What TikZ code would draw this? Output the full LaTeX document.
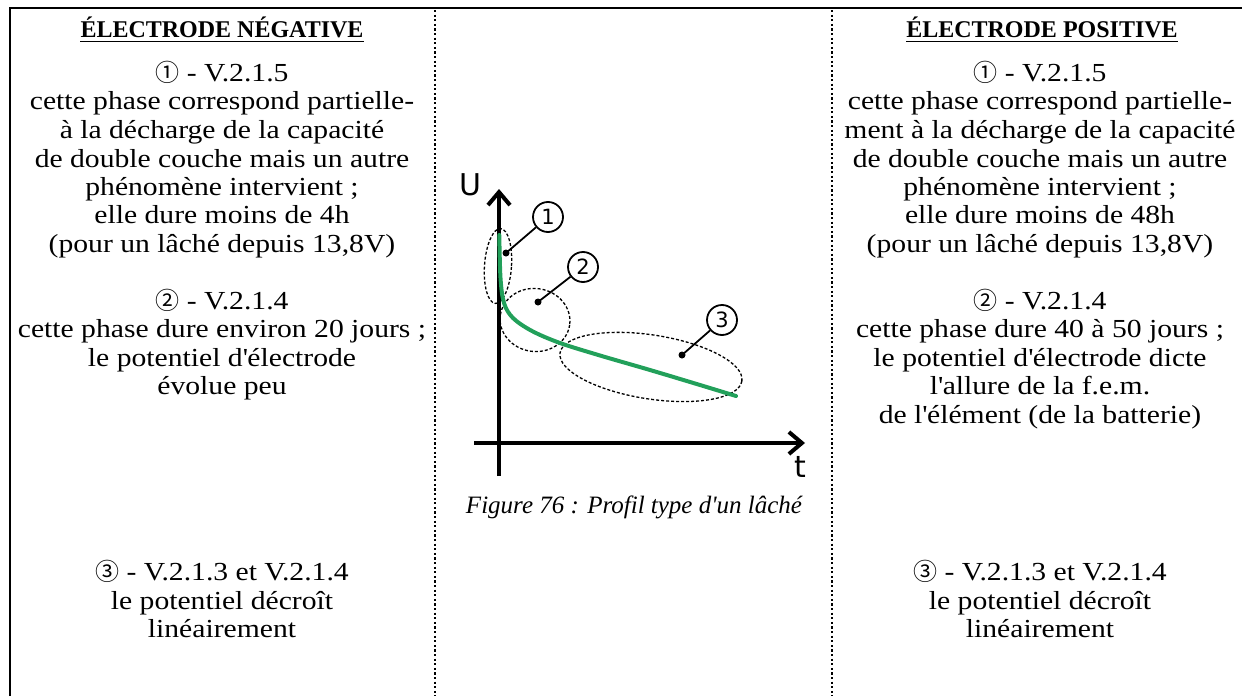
\documentclass[tikz,border=0pt]{standalone}
\usepackage{fontspec}
\setmainfont{Liberation Serif}
\newfontfamily\djv{DejaVu Sans}
\newfontfamily\cjk{Noto Sans CJK JP}
\newfontfamily\bodyfont{Liberation Serif}[FakeStretch=1.14]
\usetikzlibrary{arrows.meta}
\newcommand\cn[1]{{\cjk\fontsize{24}{24}\selectfont #1}}
\newcommand\sq{\XeTeXglyph\numexpr\XeTeXcharglyph"27\relax}
\begin{document}
\begin{tikzpicture}[x=1pt,y=-1pt,
  body/.style={font=\bodyfont\fontsize{26}{26}\selectfont, inner sep=0pt, anchor=base},
  hdr/.style={font=\fontsize{24}{24}\selectfont\bfseries, inner sep=0pt, anchor=base},
  sep/.style={line width=2.2pt, dash pattern=on 2.2pt off 2.4pt},
  frame/.style={line width=2.2pt},
  region/.style={draw, dash pattern=on 3pt off 2pt, line width=1.3pt},
  badge/.style={circle, draw, line width=1.8pt, minimum size=30pt, inner sep=0pt, font=\djv\fontsize{21}{21}\selectfont, fill=white},
  dotmark/.style={circle, fill, inner sep=0pt, minimum size=7pt},
  axis/.style={line width=4pt, -{Straight Barb[length=13pt,width=22pt]}},
  caption/.style={font=\fontsize{25}{25}\selectfont\itshape, inner sep=0pt, anchor=base},
  axlabel/.style={font=\djv\fontsize{30}{30}\selectfont, inner sep=0pt, anchor=base},
]
\useasboundingbox (0,0) rectangle (1242,696);
% frame
\coordinate (tl) at (10,8);
\coordinate (tr) at (1242,8);
\coordinate (bl) at (10,696);
\draw[frame] (bl) -- (tl) -- (tr);
\coordinate (s1t) at (435,10);
\coordinate (s1b) at (435,696);
\coordinate (s2t) at (832,10);
\coordinate (s2b) at (832,696);
\draw[sep] (s1t) -- (s1b);
\draw[sep] (s2t) -- (s2b);
% headers
\node[hdr] (hL) at (222,37) {ÉLECTRODE NÉGATIVE};
\draw[line width=1.6pt] ([yshift=-4.5pt]hL.base west) -- ([yshift=-4.5pt]hL.base east);
\node[hdr] (hR) at (1042,37) {ÉLECTRODE POSITIVE};
\draw[line width=1.6pt] ([yshift=-4.5pt]hR.base west) -- ([yshift=-4.5pt]hR.base east);
% left column
\foreach \n/\y/\t in {
  1/81/{\cn{①} - V.2.1.5},
  2/109/{cette phase correspond partielle-},
  3/138/{à la décharge de la capacité},
  4/167/{de double couche mais un autre},
  5/195/{phénomène intervient ;},
  6/223/{elle dure moins de 4h},
  7/252/{(pour un lâché depuis 13,8V)},
  8/309/{\cn{②} - V.2.1.4},
  9/337/{cette phase dure environ 20 jours ;},
  10/366/{le potentiel d\sq électrode},
  11/394/{évolue peu},
  12/580/{\cn{③} - V.2.1.3 et V.2.1.4},
  13/609/{le potentiel décroît},
  14/637/{linéairement}}
  \node[body] (L\n) at (222,\y) {\t};
% right column
\foreach \n/\y/\t in {
  1/81/{\cn{①} - V.2.1.5},
  2/109/{cette phase correspond partielle-},
  3/138/{ment à la décharge de la capacité},
  4/167/{de double couche mais un autre},
  5/195/{phénomène intervient ;},
  6/223/{elle dure moins de 48h},
  7/252/{(pour un lâché depuis 13,8V)},
  8/309/{\cn{②} - V.2.1.4},
  9/337/{cette phase dure 40 à 50 jours ;},
  10/366/{le potentiel d\sq électrode dicte},
  11/394/{l\sq allure de la f.e.m.},
  12/423/{de l\sq élément (de la batterie)},
  13/580/{\cn{③} - V.2.1.3 et V.2.1.4},
  14/609/{le potentiel décroît},
  15/637/{linéairement}}
  \node[body] (R\n) at (1040,\y) {\t};
% graph
\coordinate (o) at (499,443);
\coordinate (ybot) at (499,476);
\coordinate (ytop) at (499,189);
\coordinate (xleft) at (474,443);
\coordinate (xright) at (805,443);
\draw[axis] (ybot) -- (ytop);
\draw[axis] (xleft) -- (xright);
\node[axlabel] (U) at (470,195) {U};
\node[axlabel] (t) at (800,477) {t};
% regions
\coordinate (c1) at (498,266);
\coordinate (c2) at (535,320);
\coordinate (c3) at (651,367);
\draw[region, rotate around={-4:(c1)}] (c1) ellipse [x radius=13.5, y radius=37.5];
\draw[region, rotate around={-8:(c2)}] (c2) ellipse [x radius=35, y radius=31.5];
\draw[region, rotate around={-8.8:(c3)}] (c3) ellipse [x radius=92, y radius=32];
% curve
\draw[line width=4pt, color={rgb,255:red,34;green,160;blue,90}, line cap=round]
  plot[smooth, tension=0.55] coordinates {(499.3,235) (500.5,278) (504,303) (513,318) (532,331) (560,343) (600,355.5) (650,370) (700,385) (736,396)};
% markers
\node[dotmark] (d1) at (506,253) {};
\node[dotmark] (d2) at (538,302) {};
\node[dotmark] (d3) at (682,355) {};
\node[badge] (b1) at (548,217) {1};
\node[badge] (b2) at (583,267) {2};
\node[badge] (b3) at (722,320) {3};
\draw[line width=1.8pt] (d1.center) -- (b1);
\draw[line width=1.8pt] (d2.center) -- (b2);
\draw[line width=1.8pt] (d3.center) -- (b3);
% caption
\node[caption] (cap) at (634,513) {Figure 76 : Profil type d\sq un lâché};
\end{tikzpicture}
\end{document}
